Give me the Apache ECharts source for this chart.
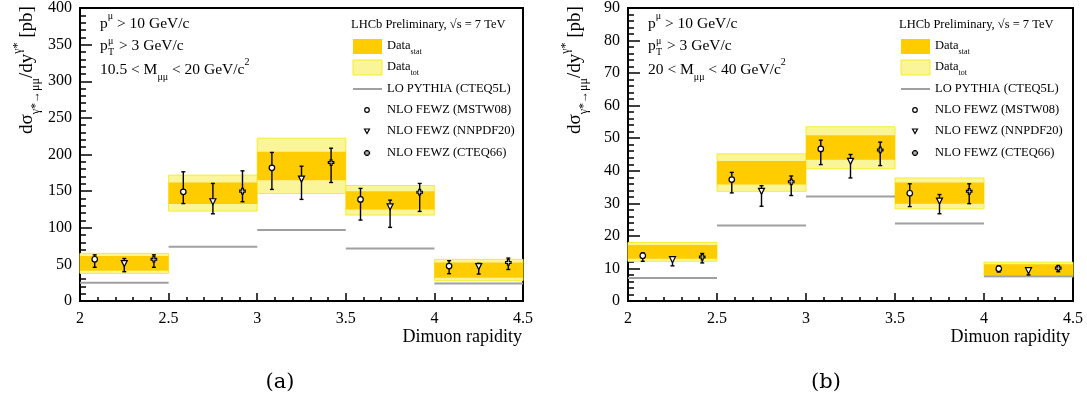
<!DOCTYPE html>
<html><head><meta charset="utf-8">
<script src="https://cdn.jsdelivr.net/npm/echarts@6/dist/echarts.min.js"></script>
<style>html,body{margin:0;padding:0;background:#fff}#c{width:1087px;height:403px}</style>
</head><body><div id="c"></div>
<script>
// ---------------- data ----------------
const binEdges = [2, 2.5, 3, 3.5, 4, 4.5];
const xMSTW  = [2.083, 2.583, 3.083, 3.583, 4.083];
const xNNPDF = [2.25, 2.75, 3.25, 3.75, 4.25];
const xCTEQ  = [2.417, 2.917, 3.417, 3.917, 4.417];

// panel (a): 10.5 < M < 20
const aStatLow  = [41.3, 132.3, 165.0, 125.0, 31.8];
const aStatHigh = [61.4, 161.8, 203.6, 150.0, 52.7];
const aTotLow   = [37.7, 122.7, 146.8, 117.3, 27.7];
const aTotHigh  = [65.0, 171.8, 222.3, 157.7, 56.8];
const aLO       = [25.0, 74.0, 96.8, 71.8, 24.0];
const aMSTW     = [57.0, 149.0, 181.8, 138.7, 47.7];
const aMSTWLow  = [46.0, 133.0, 152.3, 110.5, 37.3];
const aMSTWHigh = [63.0, 176.4, 202.8, 153.7, 55.0];
const aNNPDF     = [51.0, 135.5, 166.4, 128.6, 47.0];
const aNNPDFLow  = [40.0, 119.0, 138.7, 100.5, 36.8];
const aNNPDFHigh = [58.0, 160.5, 184.0, 137.7, 51.4];
const aCTEQ     = [57.0, 150.0, 189.0, 148.6, 52.7];
const aCTEQLow  = [46.0, 135.5, 161.8, 122.3, 43.0];
const aCTEQHigh = [63.0, 177.7, 208.6, 160.5, 58.6];

// panel (b): 20 < M < 40
const bStatLow  = [13.0, 35.8, 43.4, 29.9, 8.0];
const bStatHigh = [17.2, 43.0, 50.9, 36.4, 11.3];
const bTotLow   = [12.2, 33.7, 40.6, 28.3, 7.4];
const bTotHigh  = [18.0, 45.2, 53.5, 37.8, 11.9];
const bLO       = [7.1, 23.2, 32.1, 23.8, 7.6];
const bMSTW     = [13.9, 37.3, 46.7, 33.1, 9.9];
const bMSTWLow  = [12.2, 33.2, 41.9, 29.0, 8.9];
const bMSTWHigh = [14.8, 39.5, 49.4, 36.0, 10.8];
const bNNPDF     = [12.7, 33.7, 42.9, 30.7, 9.3];
const bNNPDFLow  = [10.8, 29.1, 37.8, 26.8, 8.0];
const bNNPDFHigh = [13.6, 35.4, 45.0, 32.7, 9.9];
const bCTEQ     = [13.5, 36.6, 46.4, 33.7, 10.1];
const bCTEQLow  = [11.7, 32.4, 41.6, 29.9, 9.0];
const bCTEQHigh = [14.6, 38.4, 48.8, 36.0, 10.8];

const xTickInterval = 0.5;
const yMaxA = 400, yIntA = 50;
const yMaxB = 90,  yIntB = 10;

// ---------------- styles ----------------
const FONT = 'Liberation Serif';
const STAT = '#ffcc00';
const TOT = '#fbf59a';
const TOT_EDGE = '#f4ee2a';
const LO_COL = '#a0a0a0';
const CROSS = 'path://M2,0 L4,0 L4,2 L6,2 L6,4 L4,4 L4,6 L2,6 L2,4 L0,4 L0,2 L2,2 Z';

function bandData(lo, hi) {
  return lo.map((v, i) => [binEdges[i], binEdges[i + 1], v, hi[i]]);
}
function loData(v) {
  return v.map((y, i) => [binEdges[i], binEdges[i + 1], y]);
}
function errData(xs, lo, hi) {
  return xs.map((x, i) => [x, lo[i], hi[i]]);
}
function ptData(xs, ys) {
  return xs.map((x, i) => [x, ys[i]]);
}

function bandSeries(idx, data, fill, stroke) {
  return {
    type: 'custom', xAxisIndex: idx, yAxisIndex: idx, data: data,
    encode: { x: [0, 1], y: [2, 3] }, silent: true, z: 1,
    renderItem: function (params, api) {
      const p1 = api.coord([api.value(0), api.value(3)]);
      const p2 = api.coord([api.value(1), api.value(2)]);
      return { type: 'rect', shape: { x: p1[0], y: p1[1], width: p2[0] - p1[0], height: p2[1] - p1[1] },
        style: { fill: fill, stroke: stroke, lineWidth: stroke ? 1 : 0 } };
    }
  };
}
function loSeries(idx, data) {
  return {
    type: 'custom', xAxisIndex: idx, yAxisIndex: idx, data: data,
    encode: { x: [0, 1], y: 2 }, silent: true, z: 2,
    renderItem: function (params, api) {
      const p1 = api.coord([api.value(0), api.value(2)]);
      const p2 = api.coord([api.value(1), api.value(2)]);
      return { type: 'line', shape: { x1: p1[0], y1: p1[1], x2: p2[0], y2: p2[1] },
        style: { stroke: LO_COL, lineWidth: 2 } };
    }
  };
}
function errSeries(idx, data) {
  return {
    type: 'custom', xAxisIndex: idx, yAxisIndex: idx, data: data,
    encode: { x: 0, y: [1, 2] }, silent: true, z: 3,
    renderItem: function (params, api) {
      const lo = api.coord([api.value(0), api.value(1)]);
      const hi = api.coord([api.value(0), api.value(2)]);
      const c = 2;
      const st = { stroke: '#000', lineWidth: 1.4 };
      return { type: 'group', children: [
        { type: 'line', shape: { x1: lo[0], y1: lo[1], x2: hi[0], y2: hi[1] }, style: st },
        { type: 'line', shape: { x1: lo[0] - c, y1: lo[1], x2: lo[0] + c, y2: lo[1] }, style: st },
        { type: 'line', shape: { x1: hi[0] - c, y1: hi[1], x2: hi[0] + c, y2: hi[1] }, style: st }
      ] };
    }
  };
}
function ptSeries(idx, data, symbol, rot, size) {
  return {
    type: 'scatter', xAxisIndex: idx, yAxisIndex: idx, data: data, symbol: symbol,
    symbolRotate: rot || 0, symbolSize: size, z: 4, silent: true,
    itemStyle: { color: '#fff', borderColor: '#000', borderWidth: 1.2, opacity: 1 }
  };
}

function xAxis(idx) {
  return {
    gridIndex: idx, type: 'value', min: binEdges[0], max: binEdges[binEdges.length - 1], interval: xTickInterval,
    axisLine: { onZero: false, lineStyle: { color: '#000', width: 2 } },
    axisTick: { inside: true, length: 8, lineStyle: { color: '#000', width: 1.5 } },
    minorTick: { show: true, splitNumber: 5, length: 4, lineStyle: { color: '#000', width: 1.5 } },
    axisLabel: { fontFamily: FONT, fontSize: 16, color: '#000', margin: 10 },
    splitLine: { show: false }
  };
}
function yAxis(idx, max, interval) {
  return {
    gridIndex: idx, type: 'value', min: 0, max: max, interval: interval,
    axisLine: { show: true, onZero: false, lineStyle: { color: '#000', width: 2 } },
    axisTick: { inside: true, length: 12, lineStyle: { color: '#000', width: 1.5 } },
    minorTick: { show: true, splitNumber: 5, length: 6, lineStyle: { color: '#000', width: 1.5 } },
    axisLabel: { fontFamily: FONT, fontSize: 16, color: '#000', margin: 8 },
    splitLine: { show: false }
  };
}

// ---------------- text helpers ----------------
function txt(x, y, text, size, rich, extra) {
  const r = rich || {};
  return Object.assign({
    type: 'text', x: x, y: y, silent: true, z: 10,
    style: Object.assign({ text: text, fontFamily: FONT, fontSize: size, fill: '#000',
      textAlign: 'left', textVerticalAlign: 'middle', rich: r }, (extra && extra.style) || {})
  }, extra && extra.rotation !== undefined ? { rotation: extra.rotation } : {});
}
function richSet(main, sub) {
  return {
    n: { fontFamily: FONT, fontSize: main, lineHeight: main * 1.6, verticalAlign: 'middle' },
    sub: { fontFamily: FONT, fontSize: sub, lineHeight: main * 1.6, verticalAlign: 'bottom' },
    sup: { fontFamily: FONT, fontSize: sub, lineHeight: main * 1.6, verticalAlign: 'top' }
  };
}

function panelGraphics(dx, massText) {
  const g = [];
  const L = 351 + dx;
  const T = 387 + dx;
  const lf = 12.5;
  const rs = richSet(lf, 8);
  g.push(txt(L, 25, 'LHCb Preliminary, √s = 7 TeV', lf, rs));
  g.push({ type: 'rect', shape: { x: L + 2, y: 39, width: 29, height: 15 }, style: { fill: STAT }, silent: true, z: 10 });
  g.push(txt(T, 46, '{n|Data}{sub|stat}', lf, rs));
  g.push({ type: 'rect', shape: { x: L + 2, y: 60, width: 29, height: 15 }, style: { fill: TOT, stroke: TOT_EDGE, lineWidth: 1 }, silent: true, z: 10 });
  g.push(txt(T, 67, '{n|Data}{sub|tot}', lf, rs));
  g.push({ type: 'line', shape: { x1: L + 2, y1: 89, x2: L + 31, y2: 89 }, style: { stroke: LO_COL, lineWidth: 2 }, silent: true, z: 10 });
  g.push(txt(T, 89, 'LO PYTHIA (CTEQ5L)', lf, rs));
  g.push({ type: 'circle', shape: { cx: L + 16, cy: 110, r: 2.3 }, style: { fill: '#fff', stroke: '#000', lineWidth: 1.2 }, silent: true, z: 10 });
  g.push(txt(T, 110, 'NLO FEWZ (MSTW08)', lf, rs));
  g.push({ type: 'polygon', shape: { points: [[L + 13.5, 129], [L + 18.5, 129], [L + 16, 133.5]] }, style: { fill: '#fff', stroke: '#000', lineWidth: 1.2 }, silent: true, z: 10 });
  g.push(txt(T, 131, 'NLO FEWZ (NNPDF20)', lf, rs));
  g.push({ type: 'polygon', shape: { points: [[L+15,150.5],[L+17,150.5],[L+17,152],[L+18.5,152],[L+18.5,154],[L+17,154],[L+17,155.5],[L+15,155.5],[L+15,154],[L+13.5,154],[L+13.5,152],[L+15,152]] }, style: { fill: '#fff', stroke: '#000', lineWidth: 1.2 }, silent: true, z: 10 });
  g.push(txt(T, 153, 'NLO FEWZ (CTEQ66)', lf, rs));

  // kinematic cuts
  const K = 100 + dx;
  const kf = 15.5;
  const ks = richSet(kf, 10);
  g.push(txt(K, 24, '{n|p}{sup|μ}{n| > 10 GeV/c}', kf, ks));
  g.push(txt(K, 46, 'p', kf, ks));
  g.push(txt(K + 8, 41, 'μ', 10, ks));
  g.push(txt(K + 8, 52, 'T', 10, ks));
  g.push(txt(K + 19, 46, '> 3 GeV/c', kf, ks));
  g.push(txt(K, 70, massText, kf, ks));

  // y title
  const yt = richSet(19, 12);
  g.push(txt(27 + dx, 70, '{n|dσ}{sub|γ*→μμ}{n|/dy}{sup|γ*}{n| [pb]}', 19, yt, { rotation: Math.PI / 2 }));
  g[g.length - 1].style.textAlign = 'center';
  // x title
  const xt = txt(522 + dx, 337, 'Dimuon rapidity', 18, {});
  xt.style.textAlign = 'right';
  g.push(xt);
  return g;
}

const graphics = []
  .concat(panelGraphics(0, '{n|10.5 < M}{sub|μμ}{n| < 20 GeV/c}{sup|2}'))
  .concat(panelGraphics(548, '{n|20 < M}{sub|μμ}{n| < 40 GeV/c}{sup|2}'));
const capA = txt(280, 383, '(a)', 21, {}); capA.style.textAlign = 'center'; capA.style.fontFamily = 'DejaVu Serif';
const capB = txt(826, 383, '(b)', 21, {}); capB.style.textAlign = 'center'; capB.style.fontFamily = 'DejaVu Serif';
graphics.push(capA, capB);

const chart = echarts.init(document.getElementById('c'), null, { renderer: 'canvas' });
chart.setOption({
  backgroundColor: '#fff',
  animation: false,
  grid: [
    { left: 80, top: 8, width: 443, height: 293, show: true, borderColor: '#000', borderWidth: 2, backgroundColor: 'transparent' },
    { left: 628, top: 8, width: 445, height: 293, show: true, borderColor: '#000', borderWidth: 2, backgroundColor: 'transparent' }
  ],
  xAxis: [xAxis(0), xAxis(1)],
  yAxis: [yAxis(0, yMaxA, yIntA), yAxis(1, yMaxB, yIntB)],
  series: [
    bandSeries(0, bandData(aTotLow, aTotHigh), TOT, TOT_EDGE),
    bandSeries(0, bandData(aStatLow, aStatHigh), STAT, null),
    loSeries(0, loData(aLO)),
    errSeries(0, errData(xMSTW, aMSTWLow, aMSTWHigh)),
    errSeries(0, errData(xNNPDF, aNNPDFLow, aNNPDFHigh)),
    errSeries(0, errData(xCTEQ, aCTEQLow, aCTEQHigh)),
    ptSeries(0, ptData(xMSTW, aMSTW), 'circle', 0, 5.5),
    ptSeries(0, ptData(xNNPDF, aNNPDF), 'triangle', 180, 6),
    ptSeries(0, ptData(xCTEQ, aCTEQ), CROSS, 0, 5.5),

    bandSeries(1, bandData(bTotLow, bTotHigh), TOT, TOT_EDGE),
    bandSeries(1, bandData(bStatLow, bStatHigh), STAT, null),
    loSeries(1, loData(bLO)),
    errSeries(1, errData(xMSTW, bMSTWLow, bMSTWHigh)),
    errSeries(1, errData(xNNPDF, bNNPDFLow, bNNPDFHigh)),
    errSeries(1, errData(xCTEQ, bCTEQLow, bCTEQHigh)),
    ptSeries(1, ptData(xMSTW, bMSTW), 'circle', 0, 5.5),
    ptSeries(1, ptData(xNNPDF, bNNPDF), 'triangle', 180, 6),
    ptSeries(1, ptData(xCTEQ, bCTEQ), CROSS, 0, 5.5)
  ],
  graphic: graphics
});
</script>
</body></html>
